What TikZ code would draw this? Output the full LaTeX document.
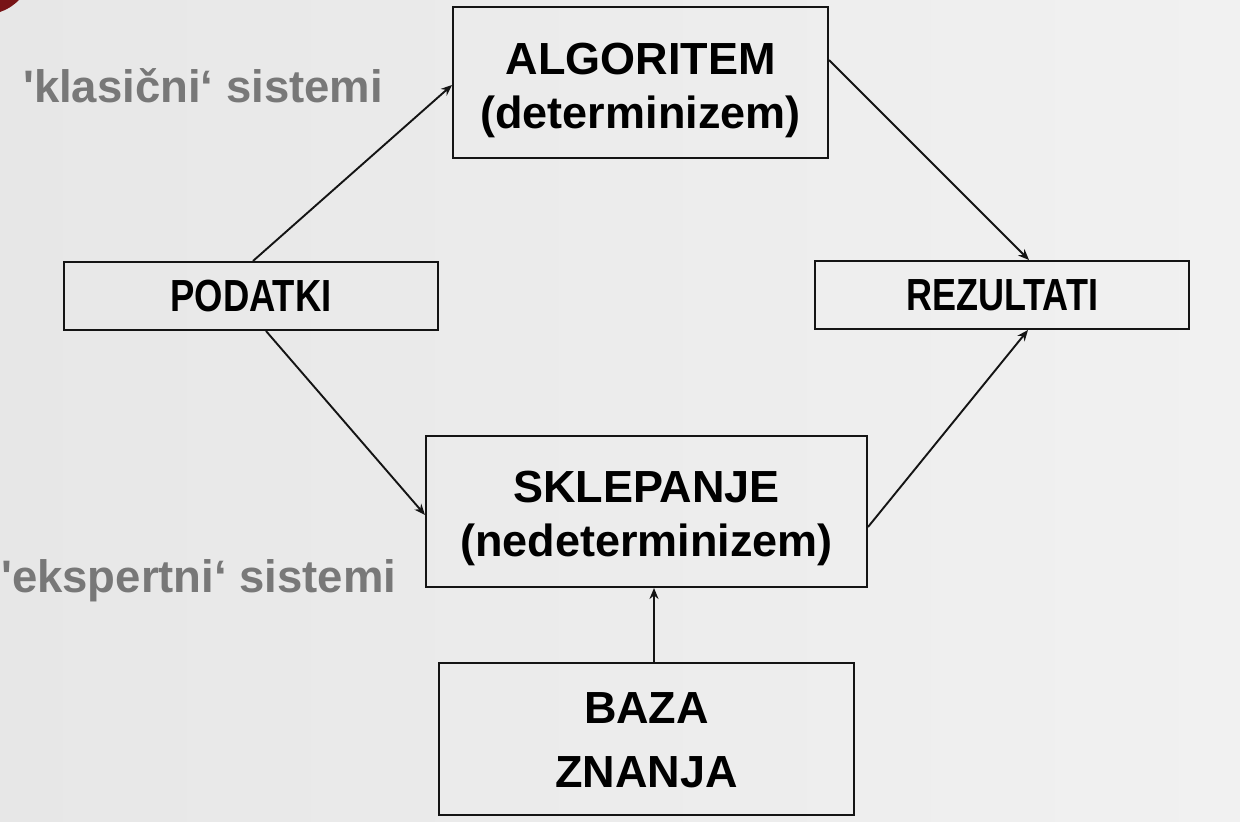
\documentclass[tikz,border=0pt]{standalone}
\usepackage{fontspec}
\usepackage{graphicx}
\setmainfont{Liberation Sans}
\newfontfamily\labfont{Liberation Sans}[Ligatures=TeXOff]
\usetikzlibrary{arrows.meta}
\definecolor{bgL}{RGB}{231,231,231}
\definecolor{bgR}{RGB}{241,241,241}
\definecolor{labgray}{RGB}{120,120,120}
\definecolor{edge}{RGB}{20,20,20}
\definecolor{corner}{RGB}{120,20,22}
\newcommand{\twolines}[4]{\raisebox{#1}[\height][\depth]{\begin{tabular}{@{}c@{}}#2\\[#4]#3\end{tabular}}}
\tikzset{
  box/.style={draw=edge, line width=2pt, inner sep=0pt, align=center,
    font=\fontsize{45}{54}\selectfont\bfseries, text=black},
  narrowbox/.style={box, minimum width=374pt, minimum height=68pt},
  conn/.style={draw=edge, line width=1.9pt, -{Stealth[length=11pt,width=9pt]}},
  lab/.style={anchor=base west, inner sep=0pt, text=labgray,
    font=\labfont\fontsize{45.5}{50}\selectfont\bfseries},
}
\begin{document}
\begin{tikzpicture}[x=1pt,y=-1pt]
\useasboundingbox (0,0) rectangle (1240,822);
\shade[left color=bgL, right color=bgR] (0,0) rectangle (1240,822);
\fill[corner] (0,0) -- (19,0) .. controls (13,6) and (6,10) .. (0,12) -- cycle;

\node[box, minimum width=375pt, minimum height=151pt] (alg) at (640.5,82.5) {\twolines{-8pt}{ALGORITEM}{(determinizem)}{0pt}};
\node[narrowbox] (pod) at (251,296) {\scalebox{0.81}[1]{PODATKI}};
\node[narrowbox] (rez) at (1002,295) {\scalebox{0.80}[1]{REZULTATI}};
\node[box, minimum width=441pt, minimum height=151pt] (skl) at (646.5,511.5) {\twolines{-7pt}{SKLEPANJE}{(nedeterminizem)}{0pt}};
\node[box, minimum width=415pt, minimum height=152pt] (baza) at (646.5,739) {\twolines{-6pt}{BAZA}{ZNANJA}{10pt}};

\node[lab] (klas) at (23,102) {'klasični‘ sistemi};
\node[lab] (eksp) at (1,592) {'ekspertni‘ sistemi};

\draw[conn] ([xshift=2pt]pod.north) -- ([yshift=-2.5pt]alg.west);
\draw[conn] ([yshift=22.5pt]alg.east) -- ([xshift=27pt]rez.north);
\draw[conn] ([xshift=15pt]pod.south) -- ([yshift=-3.5pt]skl.west);
\draw[conn] ([yshift=-15.5pt]skl.east) -- ([xshift=26pt]rez.south);
\draw[conn] ([xshift=7.5pt]baza.north) -- ([xshift=7.5pt]skl.south);
\end{tikzpicture}
\end{document}
